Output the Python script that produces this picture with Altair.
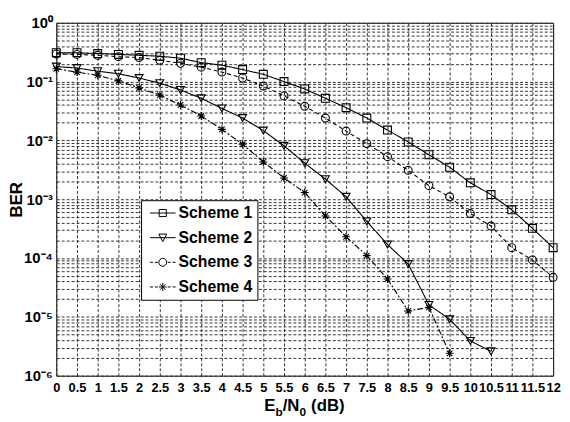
import altair as alt
import pandas as pd

# ---------------- data ----------------
schemes = ["Scheme 1", "Scheme 2", "Scheme 3", "Scheme 4"]

x_full = [0, 0.5, 1, 1.5, 2, 2.5, 3, 3.5, 4, 4.5, 5, 5.5, 6, 6.5, 7, 7.5,
          8, 8.5, 9, 9.5, 10, 10.5, 11, 11.5, 12]

scheme1 = [0.31, 0.31, 0.30, 0.29, 0.28, 0.27, 0.25, 0.21, 0.19, 0.16, 0.133,
           0.10, 0.075, 0.052, 0.036, 0.024, 0.015, 0.0094, 0.0057, 0.0035,
           0.0019, 0.0012, 0.00066, 0.00032, 0.00015]

scheme3 = [0.295, 0.29, 0.28, 0.265, 0.256, 0.23, 0.205, 0.176, 0.145, 0.115,
           0.084, 0.057, 0.038, 0.024, 0.0144, 0.0088, 0.0053, 0.0031, 0.0017,
           0.0011, 0.00057, 0.00035, 0.00015, 0.000093, 0.000047]

x_s2 = x_full[:22]
scheme2 = [0.18, 0.17, 0.15, 0.136, 0.115, 0.094, 0.072, 0.052, 0.035, 0.024,
           0.0147, 0.0081, 0.0041, 0.0022, 0.0011, 0.00042, 0.00017, 0.000079,
           0.000016, 0.0000091, 0.0000039, 0.0000026]

x_s4 = x_full[:20]
scheme4 = [0.165, 0.145, 0.128, 0.103, 0.078, 0.059, 0.040, 0.026, 0.0154,
           0.0086, 0.0043, 0.0023, 0.0013, 0.00052, 0.00023, 0.00011, 0.000044,
           0.0000126, 0.0000145, 0.0000024]

x_ticks = x_full
y_grid = [m * 10.0 ** k for k in range(-6, 0) for m in range(1, 10)] + [1.0]

rows = []
for name, xs, ys in [("Scheme 1", x_full, scheme1), ("Scheme 2", x_s2, scheme2),
                     ("Scheme 3", x_full, scheme3), ("Scheme 4", x_s4, scheme4)]:
    for a, b in zip(xs, ys):
        rows.append({"snr": a, "ber": b, "scheme": name})
df = pd.DataFrame(rows)

# ---------------- styles ----------------
FONT = "Liberation Sans"
GRID_DASH = [3, 2]
GRID_COLOR = "#333333"

asterisk = "M-1,0H1M0,-1V1M-0.7,-0.7L0.7,0.7M-0.7,0.7L0.7,-0.7"
plot_shapes = ["square", "triangle-down", "circle", asterisk]

solid_stub = "M-3.25,0H3.25"
dash_stub = "M-3.25,0H-2.5M-2,0H-1.25M1.25,0H2M2.5,0H3.25"
legend_shapes = [
    solid_stub + "M-0.9,-0.9H0.9V0.9H-0.9Z",
    solid_stub + "M-1,-0.9H1L0,1Z",
    dash_stub + "M1,0A1,1,0,1,1,-1,0A1,1,0,1,1,1,0Z",
    dash_stub + "M-1,0H1M0,-1V1M-0.7,-0.7L0.7,0.7M-0.7,0.7L0.7,-0.7",
]
dash_range = [[1, 0], [1, 0], [4, 3], [6, 2, 2, 2]]

x_axis = alt.Axis(
    values=x_ticks, format="~g", labelOverlap=False, labelFlush=False,
    grid=True, gridDash=GRID_DASH, gridColor=GRID_COLOR, gridOpacity=1,
    ticks=False, domain=False, labelPadding=6,
    labelFont=FONT, labelFontSize=13, labelFontWeight="bold",
    labelColor="black", title=None,
)

y_label_expr = (
    "abs(log(datum.value)/LN10 - round(log(datum.value)/LN10)) < 0.01 ? "
    "'10' + ['\u2070','\u207b\u00b9','\u207b\u00b2','\u207b\u00b3','\u207b\u2074',"
    "'\u207b\u2075','\u207b\u2076'][-round(log(datum.value)/LN10)] : ''"
)

y_axis = alt.Axis(
    values=y_grid, labelExpr=y_label_expr, labelOverlap=False,
    grid=True, gridDash=GRID_DASH, gridColor=GRID_COLOR, gridOpacity=1,
    ticks=False, domain=False, labelPadding=4,
    labelFont=FONT, labelFontSize=15, labelFontWeight="bold",
    labelColor="black", labelBaseline="middle",
    title="BER", titleFont=FONT, titleFontSize=17,
    titleFontWeight="bold", titleColor="black",
    titleX=-40, titleY=179, titleBaseline="middle", titleAngle=270,
)

x_scale = alt.Scale(domain=[0, 12], nice=False, zero=False)
y_scale = alt.Scale(type="log", domain=[1e-6, 1], nice=False)


def xe():
    return alt.X("snr:Q", scale=x_scale, axis=x_axis)


def ye():
    return alt.Y("ber:Q", scale=y_scale, axis=y_axis)


lines = alt.Chart(df).mark_line(color="black", strokeWidth=1.1).encode(
    x=xe(), y=ye(),
    strokeDash=alt.StrokeDash("scheme:N", scale=alt.Scale(domain=schemes, range=dash_range), legend=None),
    detail="scheme:N",
)

points = alt.Chart(df).mark_point(filled=False, color="black", size=64, strokeWidth=1.1, opacity=1).encode(
    x=xe(), y=ye(),
    shape=alt.Shape("scheme:N", scale=alt.Scale(domain=schemes, range=plot_shapes), legend=None),
)

legend_layer = alt.Chart(df).transform_filter("false").mark_point(
    filled=False, color="black", strokeWidth=1, opacity=1
).encode(
    shape=alt.Shape(
        "scheme:N",
        scale=alt.Scale(domain=schemes, range=legend_shapes),
        legend=alt.Legend(
            title=None, orient="none", legendX=86, legendY=180,
            strokeColor="black", fillColor="white", padding=5,
            labelFont=FONT, labelFontSize=16, labelFontWeight="bold",
            labelColor="black", symbolSize=64, symbolOffset=9, labelOffset=8,
            rowPadding=9, symbolStrokeWidth=1, symbolStrokeColor="black",
            symbolFillColor="transparent",
        ),
    ),
)

# composed x-axis title  E_b/N_0 (dB)
title_parts = [("E", 211, 394, 17), ("b", 222.3, 399, 12), ("/N", 229.6, 394, 17),
               ("0", 246.6, 399, 12), ("(dB)", 258.5, 394, 17)]
title_layers = []
for txt, px, py, fs in title_parts:
    title_layers.append(
        alt.Chart(pd.DataFrame({"t": [txt]})).mark_text(
            align="left", baseline="alphabetic", font=FONT, fontSize=fs,
            fontWeight="bold", color="black",
        ).encode(text="t:N", x=alt.value(px), y=alt.value(py))
    )

chart = alt.layer(lines, points, legend_layer, *title_layers).resolve_scale(
    shape="independent"
).properties(
    width=504, height=358,
    padding={"left": 49, "top": 12, "right": 9, "bottom": 44},
    autosize=alt.AutoSizeParams(type="none"),
    background="white",
).configure_view(stroke="black", strokeWidth=1)

chart.save("out.html", embed_options={"renderer": "svg", "actions": False})
